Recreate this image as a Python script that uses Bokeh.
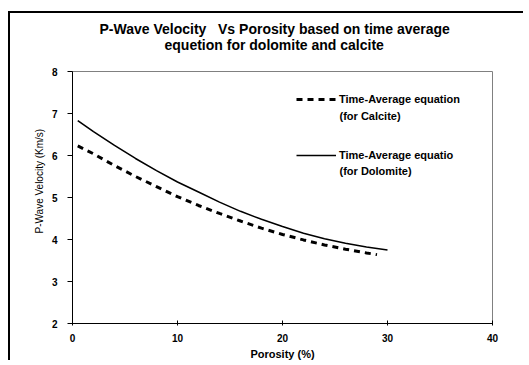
from bokeh.plotting import figure
from bokeh.models import Label, Legend, LegendItem, Range1d, FixedTicker, Title
from bokeh.embed import file_html
from bokeh.resources import INLINE

# ---- data ----
porosity_calcite = [0.5, 2, 4, 6, 8, 10, 12, 14, 16, 18, 20, 22, 24, 26, 28, 29]
velocity_calcite = [6.23, 6.04, 5.76, 5.50, 5.26, 5.02, 4.81, 4.62, 4.44, 4.27,
                    4.12, 3.99, 3.87, 3.77, 3.68, 3.64]
porosity_dolomite = [0.5, 2, 4, 6, 8, 10, 12, 14, 16, 18, 20, 22, 24, 26, 28, 30]
velocity_dolomite = [6.83, 6.57, 6.24, 5.93, 5.64, 5.37, 5.13, 4.89, 4.67, 4.48,
                     4.31, 4.15, 4.02, 3.91, 3.82, 3.75]
x_ticks = [0, 10, 20, 30, 40]
y_ticks = [2, 3, 4, 5, 6, 7, 8]

title_lines = ["P-Wave Velocity\u00a0\u00a0\u00a0Vs Porosity based on time average",
               "equetion for dolomite and calcite"]
legend_first = ["Time-Average equation", "Time-Average equatio"]
legend_second = ["(for Calcite)", "(for Dolomite)"]

FONT = "Liberation Sans"
OX, OY = 10, 13                        # canvas offset on the page
W, H = 529 - OX - 4, 365 - OY - 3
FL, FR, FT, FB = 72, 492, 71, 323      # wanted frame edges on the page

p = figure(width=W, height=H, output_backend="svg", toolbar_location=None,
           x_range=Range1d(0, 40), y_range=Range1d(2, 8),
           min_border_left=FL - OX, min_border_right=W - (FR - OX),
           min_border_top=FT - OY, min_border_bottom=H - (FB - OY))
p.margin = (OY, 0, 0, OX)
# left and top edges of the chart-area frame, drawn just outside the canvas
p.styles = {"box-shadow": "-2px -2px 0px 0px black"}
p.background_fill_color = "white"
p.border_fill_color = "white"
p.xgrid.visible = False
p.ygrid.visible = False
p.outline_line_color = "#808080"
p.outline_line_width = 1

# axes
p.xaxis.ticker = FixedTicker(ticks=x_ticks)
p.yaxis.ticker = FixedTicker(ticks=y_ticks)
for ax in (p.xaxis, p.yaxis):
    ax.axis_line_color = "black"
    ax.axis_line_width = 1
    ax.major_tick_line_color = "black"
    ax.minor_tick_line_color = None
    ax.major_label_text_font = FONT
    ax.major_label_text_font_style = "bold"
    ax.major_label_text_font_size = "10px"
    ax.major_label_text_color = "black"
p.xaxis.major_tick_in = 3
p.xaxis.major_tick_out = 2
p.xaxis.major_label_standoff = 8
p.yaxis.major_tick_in = 0
p.yaxis.major_tick_out = 5
p.yaxis.major_label_standoff = 10
p.xaxis.axis_label = "Porosity (%)"
p.xaxis.axis_label_text_font = FONT
p.xaxis.axis_label_text_font_style = "bold"
p.xaxis.axis_label_text_font_size = "11px"
p.xaxis.axis_label_text_color = "black"
p.xaxis.axis_label_standoff = 3

# series
r_calc = p.line(porosity_calcite, velocity_calcite, line_color="black",
                line_width=3, line_dash="6 5")
r_dolo = p.line(porosity_dolomite, velocity_dolomite, line_color="black",
                line_width=1.6)

legend = Legend(items=[LegendItem(label=legend_first[0], renderers=[r_calc]),
                       LegendItem(label=legend_first[1], renderers=[r_dolo])],
                location=(224, 158), border_line_color=None,
                background_fill_alpha=0, padding=0, margin=0, spacing=36,
                glyph_width=40, glyph_height=20, label_height=20, label_standoff=3,
                label_text_font=FONT, label_text_font_style="bold",
                label_text_font_size="11px", label_text_color="black")
p.add_layout(legend, "center")

for (yy, ln) in zip([115, 170], legend_second):
    p.add_layout(Label(x=339 - FL, y=FB - yy, x_units="screen", y_units="screen",
                       text=ln, text_align="left", text_baseline="middle",
                       text_font=FONT, text_font_style="bold",
                       text_font_size="11px", text_color="black"))

# titles (inner line first: closest to the plot)
p.add_layout(Title(text=title_lines[1], align="left", offset=92, standoff=38,
                   text_font=FONT, text_font_style="bold", text_font_size="14px",
                   text_color="black"), "above")
p.add_layout(Title(text=title_lines[0], align="left", offset=27, standoff=-42,
                   text_font=FONT, text_font_style="bold", text_font_size="14px",
                   text_color="black"), "above")
# y-axis title
p.add_layout(Title(text="P-Wave Velocity (Km/s)", align="left", offset=90, standoff=8,
                   text_font=FONT, text_font_style="normal", text_font_size="10px",
                   text_color="black"), "left")

open("out.html", "w").write(file_html(p, INLINE))
